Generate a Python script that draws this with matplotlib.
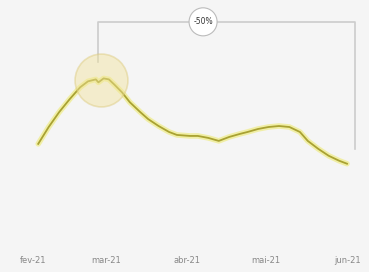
import numpy as np
import pandas as pd
import matplotlib
matplotlib.use('Agg')
import matplotlib.pyplot as plt

# data (days after 1 feb 2021, index value)
days = [2, 6, 10, 14, 18, 21, 24, 25, 27, 29, 31, 34, 37, 41, 44, 48, 52, 55, 60, 63,
        67, 71, 75, 79, 82, 86, 90, 94, 98, 102, 105, 109, 113, 117, 120]
values = [105, 122, 137, 150, 162, 168, 170, 167, 171, 170, 165, 157, 147, 137, 130, 123,
          117, 114, 113, 113, 111, 108, 112, 115, 117, 120, 122, 123, 122, 117, 108, 100,
          93, 88, 85]
month_days = [0, 28, 59, 89, 120]
month_labels = ['fev-21', 'mar-21', 'abr-21', 'mai-21', 'jun-21']
change_label = '-50%'

bg = '#f5f5f5'
fig = plt.figure(figsize=(3.69, 2.72), dpi=100, facecolor=bg)
ax = fig.add_axes([0, 0.088, 1, 0.912])
ax.set_facecolor(bg)

i_peak = int(np.argmax(values))
peak_day, peak_val = days[i_peak], values[i_peak]

# line with soft glow
ax.plot(days, values, color='#eeea70', lw=4, alpha=0.6, solid_capstyle='round', zorder=3)
ax.plot(days, values, color='#a9a232', lw=1.3, zorder=4)

# highlight around peak, over the line
ax.scatter([peak_day - 1], [peak_val - 2], s=1450, color='#f1e39a', alpha=0.45,
           edgecolor='#dcc97a', linewidth=1.2, zorder=5)

# bracket from peak to end
top = 228
ax.plot([24.8, 24.8, 123, 123], [188, top, top, 100], color='#cccccc', lw=1.2, zorder=1)
ax.text(65, top, change_label, ha='center', va='center', fontsize=5.5, color='#333333',
        bbox=dict(boxstyle='circle,pad=0.55', fc='white', ec='#bbbbbb', lw=0.8), zorder=6)

ax.set_xlim(-12.6, 128.4)
ax.set_ylim(0, 250)
ax.set_xticks(month_days)
ax.set_xticklabels(month_labels, fontsize=6, color='#888888')
ax.tick_params(axis='x', length=0, pad=6)
ax.set_yticks([])
for s in ax.spines.values():
    s.set_visible(False)

plt.savefig('out.png', dpi=100, facecolor=bg)
